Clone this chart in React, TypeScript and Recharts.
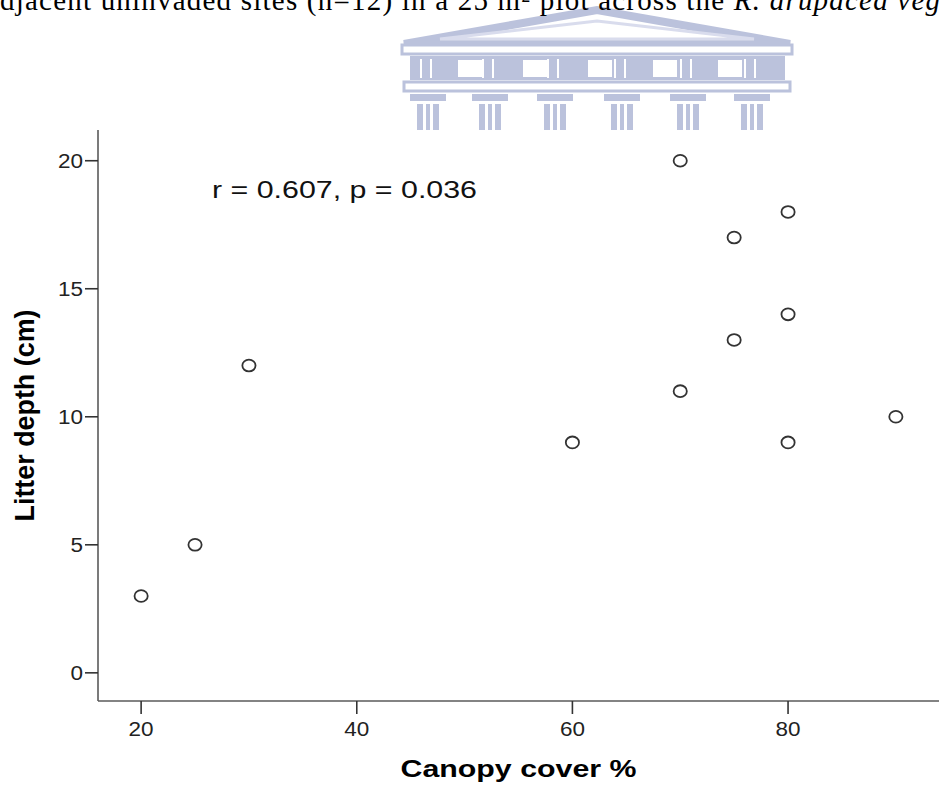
import React from 'react';
import { ScatterChart, Scatter, XAxis, YAxis } from 'recharts';

// canopy cover (%) vs litter depth (cm), one entry per site
const canopyCover = [20, 25, 30, 60, 70, 70, 75, 75, 80, 80, 80, 90];
const litterDepth = [3, 5, 12, 9, 20, 11, 17, 13, 18, 14, 9, 10];

const xTicks = [20, 40, 60, 80];
const yTicks = [0, 5, 10, 15, 20];

const statsText = 'r = 0.607, p = 0.036';

const data = canopyCover.map((x, i) => ({ x, y: litterDepth[i] }));

const W = 939;
const H = 787;
const SANS = "'Liberation Sans', Arial, sans-serif";

// open circle marker like the SPSS output
function OpenCircle(props: any) {
  const { cx, cy } = props;
  if (cx == null || cy == null) return null;
  return <ellipse cx={cx} cy={cy} rx={6.6} ry={5.9} fill="#fff" stroke="#333" strokeWidth={1.8} />;
}

// the source picture is a bit stretched sideways, so widen the digits
function XTick(props: any) {
  const { x, y, payload } = props;
  const s = String(payload.value);
  return (
    <text x={x} y={y} dy="0.71em" textAnchor="middle" fill="#222" fontSize={20} fontFamily={SANS}
      textLength={12.5 * s.length} lengthAdjust="spacingAndGlyphs">
      {s}
    </text>
  );
}

function YTick(props: any) {
  const { x, y, payload } = props;
  const s = String(payload.value);
  return (
    <text x={x} y={y} dy="0.355em" textAnchor="end" fill="#222" fontSize={20} fontFamily={SANS}
      textLength={12.5 * s.length} lengthAdjust="spacingAndGlyphs">
      {s}
    </text>
  );
}

// faded university crest sitting behind the plot
function Crest() {
  const c = '#b0b8d6';
  const cols = [428, 490, 555, 622, 688, 752];
  const wins = [470, 535, 600, 665, 730];
  return (
    <g opacity={0.85}>
      <polygon points="404,44 597,10 790,44" fill="none" stroke={c} strokeWidth={8} />
      <polygon points="440,39 597,21 754,39" fill="none" stroke="#d3d7ea" strokeWidth={3} />
      <rect x={402} y={45} width={390} height={9} fill="#fff" stroke={c} strokeWidth={3} />
      <rect x={410} y={56} width={375} height={24} fill={c} />
      {wins.map(w => (
        <rect key={w} x={w - 12} y={60} width={24} height={17} fill="#fff" />
      ))}
      {cols.map(cx => (
        <g key={'s' + cx}>
          <rect x={cx - 8} y={59} width={2} height={19} fill="#fff" />
          <rect x={cx + 2} y={59} width={2} height={19} fill="#fff" />
        </g>
      ))}
      <rect x={404} y={82} width={386} height={9} fill="#fff" stroke={c} strokeWidth={3} />
      {cols.map(cx => (
        <g key={'c' + cx}>
          <rect x={cx - 18} y={94} width={36} height={7} fill={c} />
          <rect x={cx - 11} y={101} width={22} height={3} fill="#fff" />
          <rect x={cx - 11} y={104} width={6} height={26} fill={c} />
          <rect x={cx - 2} y={104} width={4} height={26} fill={c} />
          <rect x={cx + 5} y={104} width={6} height={26} fill={c} />
        </g>
      ))}
    </g>
  );
}

export default function App() {
  return (
    <div style={{ position: 'absolute', left: 0, top: 0, width: W, height: H, background: '#fff', overflow: 'hidden' }}>
      <svg width={W} height={H} style={{ position: 'absolute', left: 0, top: 0 }}>
        <Crest />
        <text x={0} y={10} fontFamily="'Liberation Serif', 'Times New Roman', serif" fontSize={29} fill="#000" textLength={940}>
          djacent uninvaded sites (n=12) in a 25 m² plot across the{' '}
          <tspan fontStyle="italic">R. arupacea veg</tspan>
        </text>
      </svg>
      <div style={{ position: 'absolute', left: 0, top: 0 }}>
        <ScatterChart width={W} height={H} margin={{ top: 130, right: 0, bottom: 6, left: 38 }}>
          <XAxis
            type="number"
            dataKey="x"
            domain={[16, 94]}
            ticks={xTicks}
            allowDataOverflow
            height={80}
            tickSize={13}
            tickMargin={8}
            axisLine={{ stroke: '#5a5a5a', strokeWidth: 1.6 }}
            tickLine={{ stroke: '#333', strokeWidth: 1.6 }}
            tick={<XTick />}
            label={{
              value: 'Canopy cover %',
              position: 'insideBottom',
              offset: 4,
              fill: '#000',
              fontSize: 24,
              fontWeight: 'bold',
              fontFamily: SANS,
              textLength: 236,
              lengthAdjust: 'spacingAndGlyphs',
            }}
          />
          <YAxis
            type="number"
            dataKey="y"
            domain={[-1.1, 21.2]}
            ticks={yTicks}
            allowDataOverflow
            width={60}
            tickSize={13}
            tickMargin={2}
            axisLine={{ stroke: '#5a5a5a', strokeWidth: 1.6 }}
            tickLine={{ stroke: '#333', strokeWidth: 1.6 }}
            tick={<YTick />}
            label={{
              value: 'Litter depth (cm)',
              angle: -90,
              position: 'insideLeft',
              offset: -14,
              fill: '#000',
              fontSize: 27,
              fontWeight: 'bold',
              fontFamily: SANS,
              textLength: 212,
              lengthAdjust: 'spacingAndGlyphs',
              style: { textAnchor: 'middle' },
            }}
          />
          <Scatter data={data} shape={<OpenCircle />} isAnimationActive={false} />
        </ScatterChart>
      </div>
      <svg width={W} height={H} style={{ position: 'absolute', left: 0, top: 0, pointerEvents: 'none' }}>
        <text x={212} y={198} fontFamily={SANS} fontSize={23} fill="#111" textLength={265} lengthAdjust="spacingAndGlyphs">
          {statsText}
        </text>
      </svg>
    </div>
  );
}
